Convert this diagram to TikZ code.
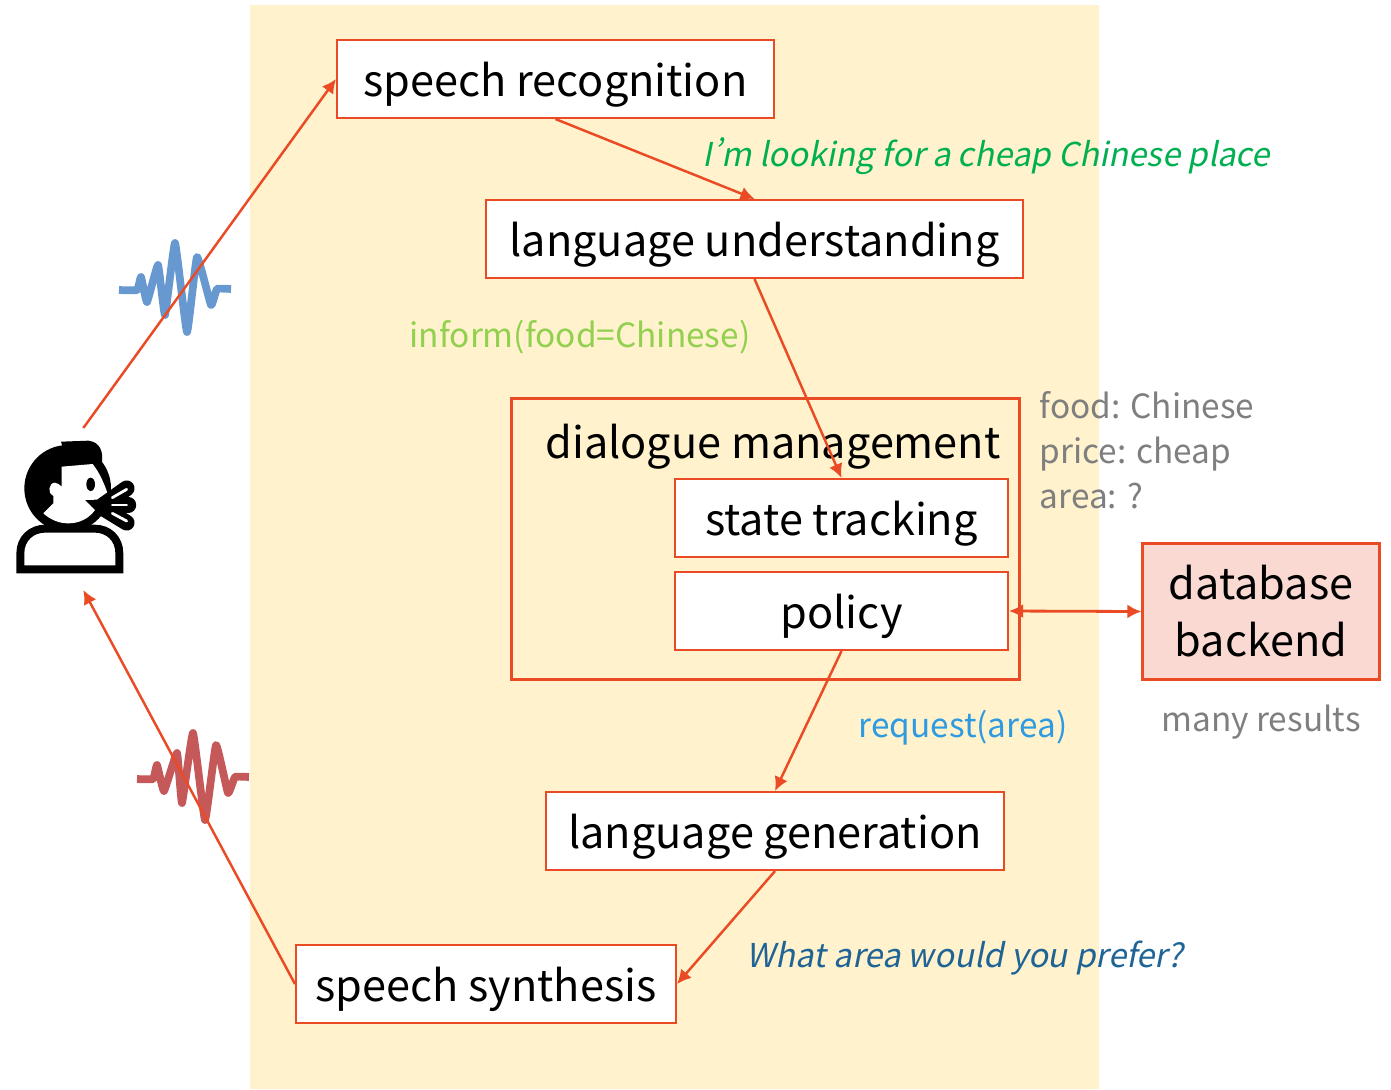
\documentclass[tikz,border=0pt]{standalone}
\usepackage{fontspec}
\setmainfont{Noto Sans CJK SC}
\newfontfamily\slantfont[FakeSlant=0.2,RawFeature={+pwid}]{Noto Sans CJK SC}
\usetikzlibrary{arrows.meta}
\definecolor{panelc}{HTML}{FFF2CC}
\definecolor{edgec}{HTML}{EA4A24}
\definecolor{dbc}{HTML}{FAD9D2}
\definecolor{utterc}{HTML}{00B050}
\definecolor{actc}{HTML}{92D050}
\definecolor{reqc}{HTML}{2E9AE0}
\definecolor{sysc}{HTML}{1F6496}
\definecolor{statec}{HTML}{7F7F7F}
\definecolor{wavea}{HTML}{6898D0}
\definecolor{waveb}{HTML}{C55858}
\tikzset{
    panel/.style = {rectangle, fill=panelc, inner sep=0pt, minimum width=16.98cm, minimum height=21.68cm},
    stepbox/.style = {rectangle, draw=edgec, line width=1.2pt, fill=white, inner sep=0pt, minimum height=1.56cm, text height=.88cm, text depth=.2cm, font=\fontsize{24.6}{30}\selectfont},
    groupbox/.style = {rectangle, draw=edgec, line width=1.7pt, inner sep=0pt, minimum width=10.18cm, minimum height=5.64cm},
    dbbox/.style = {rectangle, draw=edgec, line width=1.2pt, fill=dbc, inner sep=0pt, minimum width=4.74cm, minimum height=2.72cm, align=center, font=\fontsize{24.6}{32.5}\selectfont},
    boxtext/.style = {inner sep=0pt, text height=.88cm, text depth=.2cm, font=\fontsize{24.6}{30}\selectfont},
    utter/.style = {inner sep=0pt, font=\slantfont\fontsize{18.7}{24}\selectfont},
    info/.style = {inner sep=0pt, align=left, font=\fontsize{19}{25.6}\selectfont},
    edgen/.style = {-{Latex[length=8pt,width=8pt]}, line width=1.4pt, edgec},
    edged/.style = {{Latex[length=8pt,width=8pt]}-{Latex[length=8pt,width=8pt]}, line width=1.6pt, edgec},
    wave/.style = {line width=4.4pt, line cap=butt, line join=round, smooth, tension=0.2},
}
\begin{document}
\begin{tikzpicture}[x=0.02cm,y=-0.02cm]
\path[use as bounding box] (0,0) rectangle (1391,1089);
%
\node[panel] at (674.5,547) (back) {};
%
\node[stepbox,minimum width=8.74cm] at (555.5,79) (sr) {speech recognition};
\node[stepbox,minimum width=10.74cm] at (754.5,239) (lu) {language understanding};
\node[groupbox] at (765.5,539) (dm) {};
\node[boxtext] at (773,441) (dmt) {dialogue management};
\node[stepbox,minimum width=6.66cm] at (841.5,518) (st) {state tracking};
\node[stepbox,minimum width=6.66cm] at (841.5,611) (po) {policy};
\node[stepbox,minimum width=9.16cm] at (775,831) (lg) {language generation};
\node[stepbox,minimum width=7.60cm] at (486,984) (ss) {speech synthesis};
\node[dbbox] at (1261,611.5) (db) {database\\backend};
%
\node[utter,text=utterc] at (986.5,156) (u1) {I’m looking for a cheap Chinese place};
\node[info,text=actc] at (580,337) (a1) {inform(food=Chinese)};
\node[info,text=statec] at (1147,450.5) (s1) {food: Chinese\\price: cheap\\area: ?};
\node[info,text=reqc] at (963,728) (a2) {request(area)};
\node[info,text=statec] at (1261,722) (r1) {many results};
\node[utter,text=sysc] at (965,958) (u2) {What area would you prefer?};
%
% waves
\draw[wave,wavea] plot coordinates {(119,290) (137,290) (141,277) (147,302) (158,265) (165,315) (175,243) (187,332) (197,257) (211,305) (217,289) (231,289)};
\draw[wave,waveb] plot coordinates {(137,779) (153,779) (157,765) (164,791) (177,753) (182,803) (193,733) (205,820) (216,745) (228,793) (235,777) (249,777)};
%
% person
\begin{scope}[shift={(0,420)},scale=1/3]
\fill[black] (203,205) circle (130);
\fill[black] (183,65) -- (265,62) .. controls (300,66) and (312,95) .. (305,135) -- (200,120) -- cycle;
\fill[white] (185,140) -- (278,132) .. controls (300,160) and (312,190) .. (322,218) -- (322,238) -- (255,240) -- (285,270) .. controls (265,298) and (235,310) .. (205,310) .. controls (175,310) and (150,298) .. (130,280) -- (160,250) -- (160,228) .. controls (142,222) and (145,188) .. (165,188) .. controls (172,188) and (180,195) .. (185,200) -- cycle;
\fill[black] (272,193) ellipse (13 and 20);
\draw[black,line width=9pt,line cap=round] (310,255) -- (380,205);
\draw[black,line width=9pt,line cap=round] (310,255) -- (385,255);
\draw[black,line width=9pt,line cap=round] (310,265) -- (380,308);
\draw[white,line width=1.6pt,line cap=round] (337,233) -- (380,208);
\draw[white,line width=1.6pt,line cap=round] (337,255) -- (380,255);
\draw[white,line width=1.6pt,line cap=round] (337,280) -- (380,303);
\draw[black,fill=white,line width=4.5pt,miter limit=2] (61,448) -- (61,400) .. controls (61,355) and (95,326) .. (135,326) -- (285,326) .. controls (325,326) and (358,355) .. (358,400) -- (358,448) -- cycle;
\coordinate (me1) at (250,24);
\coordinate (me2) at (250,510);
\end{scope}
%
\draw[edgen] (me1) -- (sr.west);
\draw[edgen] (sr.south) -- (lu.north);
\draw[edgen] (lu.south) -- (st.north);
\draw[edgen] (po.south) -- (lg.north);
\draw[edgen] (lg.south) -- (ss.east);
\draw[edgen] (ss.west) -- (me2);
\draw[edged] (po.east) -- (db.west);
\end{tikzpicture}
\end{document}
